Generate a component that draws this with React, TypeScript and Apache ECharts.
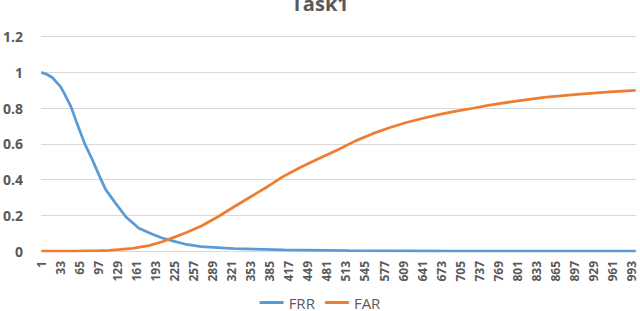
import React, { useEffect, useRef } from "react";
import * as echarts from "echarts";

const TITLE = "Task1";
const CATEGORY_COUNT = 1000;
const categories: string[] = Array.from({ length: CATEGORY_COUNT }, (_, i) => String(i + 1));

const yTicks = [0, 0.2, 0.4, 0.6, 0.8, 1, 1.2];

// FRR samples: category number -> value
const frrCats = [1, 10, 20, 26, 33, 40, 51, 62, 74, 87, 98, 109, 126, 143, 165, 187, 204, 215, 242, 270, 325, 408, 481, 519, 600, 700, 1000];
const frrVals = [1.0, 0.99, 0.97, 0.947, 0.922, 0.88, 0.807, 0.705, 0.6, 0.51, 0.425, 0.345, 0.267, 0.192, 0.127, 0.095, 0.073, 0.062, 0.039, 0.024, 0.013, 0.006, 0.004, 0.002, 0.001, 0, 0];

// FAR samples: category number -> value
const farCats = [1, 60, 100, 115, 130, 154, 182, 204, 215, 242, 270, 298, 325, 353, 381, 408, 436, 464, 497, 530, 558, 586, 613, 641, 669, 696, 724, 752, 790, 846, 901, 957, 1000];
const farVals = [0, 0, 0.002, 0.004, 0.008, 0.015, 0.03, 0.052, 0.065, 0.099, 0.14, 0.192, 0.248, 0.304, 0.36, 0.418, 0.468, 0.513, 0.563, 0.618, 0.657, 0.69, 0.718, 0.742, 0.764, 0.782, 0.798, 0.815, 0.835, 0.86, 0.877, 0.891, 0.9];

const toPairs = (cats: number[], vals: number[]) => cats.map((c, i) => [c - 1, vals[i]]);

export default function App() {
  const ref = useRef<HTMLDivElement>(null);
  useEffect(() => {
    if (!ref.current) return;
    const chart = echarts.init(ref.current, undefined, { renderer: "svg" });
    const labelColor = "#595959";
    chart.setOption({
      animation: false,
      backgroundColor: "#ffffff",
      title: {
        text: TITLE,
        left: "center",
        top: -12,
        textStyle: { fontFamily: "Open Sans", fontSize: 20, fontWeight: "bold", color: labelColor },
      },
      legend: {
        top: 290,
        left: "center",
        icon: "rect",
        itemWidth: 24,
        itemHeight: 3,
        itemGap: 10,
        textStyle: { fontFamily: "Open Sans", fontSize: 15, color: labelColor },
        data: ["FRR", "FAR"],
      },
      grid: { left: 38, right: 4, top: 36.7, bottom: 60, containLabel: false },
      xAxis: {
        type: "category",
        data: categories,
        boundaryGap: true,
        axisLine: { show: true, lineStyle: { color: "#d9d9d9", width: 1 } },
        axisTick: { show: false },
        axisLabel: {
          interval: 31,
          rotate: 90,
          fontFamily: "Open Sans",
          fontSize: 12,
          fontWeight: "bold",
          color: labelColor,
          margin: 10,
        },
        splitLine: { show: false },
      },
      yAxis: {
        type: "value",
        min: yTicks[0],
        max: yTicks[yTicks.length - 1],
        interval: 0.2,
        axisLine: { show: false },
        axisTick: { show: false },
        axisLabel: {
          fontFamily: "Open Sans",
          fontSize: 14,
          fontWeight: "bold",
          color: labelColor,
          margin: 18,
          formatter: (v: number) => String(Math.round(v * 10) / 10),
        },
        splitLine: { lineStyle: { color: "#d9d9d9", width: 1 } },
      },
      series: [
        {
          name: "FRR",
          type: "line",
          data: toPairs(frrCats, frrVals),
          symbol: "none",
          lineStyle: { color: "#5B9BD5", width: 2.75 },
          itemStyle: { color: "#5B9BD5" },
        },
        {
          name: "FAR",
          type: "line",
          data: toPairs(farCats, farVals),
          symbol: "none",
          lineStyle: { color: "#ED7D31", width: 2.75 },
          itemStyle: { color: "#ED7D31" },
        },
      ],
    });
    return () => chart.dispose();
  }, []);
  return <div ref={ref} style={{ position: "absolute", left: 0, top: 0, width: 640, height: 311 }} />;
}
